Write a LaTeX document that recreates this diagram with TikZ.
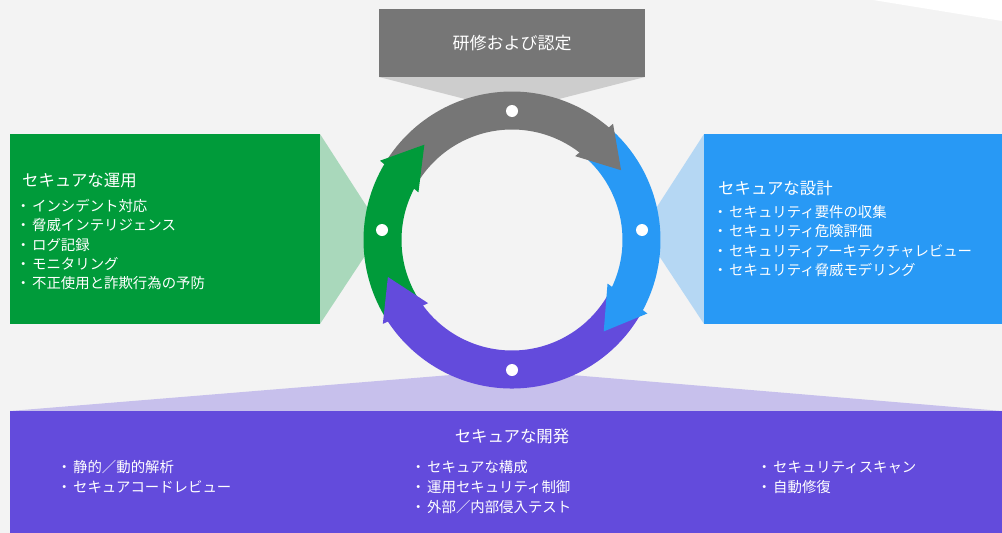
\documentclass[tikz,border=0pt]{standalone}
\usepackage{fontspec}
\newfontfamily\jp{Noto Sans CJK JP}
\definecolor{bgc}{HTML}{F3F3F3}
\definecolor{cgray}{HTML}{767676}
\definecolor{cgreen}{HTML}{009B3A}
\definecolor{cblue}{HTML}{2899F5}
\definecolor{cpurple}{HTML}{634BDC}
\newcommand\bul{\makebox[11pt][l]{\kern-5pt ・}}
\newcommand\ringbody[3]{\fill[#1] (#2:148.5) arc[start angle=#2, end angle=#3, radius=148.5] -- (#3:110.5) arc[start angle=#3, end angle=#2, radius=110.5] -- cycle;}
\newcommand\ringhead[2]{\fill[#1] ({#2-2}:154) -- ({#2-18.4}:129.5) -- ({#2+2}:105) -- cycle;}
\begin{document}
\begin{tikzpicture}[x=1pt,y=-1pt,
  box/.style={rectangle, inner sep=0pt, outer sep=0pt},
  ttl/.style={text=white, font=\jp\fontsize{16.4}{19}\selectfont, inner sep=0pt, text height=14.4pt, text depth=2pt, anchor=west},
  itm/.style={text=white, font=\jp\fontsize{14.4}{19}\selectfont, inner sep=0pt, text height=12.7pt, text depth=1.7pt, anchor=west},
  dot/.style={circle, fill=white, inner sep=0pt, minimum size=12pt},
  fan/.style={fill=#1, fill opacity=0.3}]
\useasboundingbox (0,0) rectangle (1002,533);
\fill[bgc] (0,0) rectangle (1002,533);
\fill[white] (873,0) -- (1002,0) -- (1002,21) -- cycle;
% boxes
\node[box, fill=cgray, minimum width=266pt, minimum height=68pt, text=white, font=\jp\fontsize{17}{20}\selectfont, text height=15pt, text depth=2pt] (top) at (512,43) {研修および認定};
\node[box, fill=cgreen, minimum width=310pt, minimum height=190pt] (gbox) at (165,229) {};
\node[box, fill=cblue, minimum width=298pt, minimum height=190pt] (bbox) at (853,229) {};
\node[box, fill=cpurple, minimum width=992pt, minimum height=122pt] (pbox) at (506,472) {};
% dot positions
\coordinate (dT) at (512,111);
\coordinate (dR) at (642,230);
\coordinate (dL) at (382,230);
\coordinate (dB) at (512,370);
% fans under ring
\fill[fan=cgreen] (gbox.north east) -- (dL) -- (gbox.south east) -- cycle;
\fill[fan=cgray] (top.south west) -- (dT) -- (top.south east) -- cycle;
% ring
\begin{scope}[shift={(512,240)}, y=1pt]
  \ringbody{cgray}{149}{49}
  \ringbody{cblue}{49}{-28.5}
  \ringbody{cpurple}{-28.5}{-147}
  \ringbody{cgreen}{-147}{-211}
  \ringhead{cgray}{51}
  \ringhead{cblue}{-26.5}
  \ringhead{cpurple}{215}
  \ringhead{cgreen}{151}
\end{scope}
% fans over ring
\fill[fan=cblue] (bbox.north west) -- (dR) -- (bbox.south west) -- cycle;
\fill[fan=cpurple] (pbox.north west) -- (dB) -- (pbox.north east) -- cycle;
% dots
\node[dot] (pT) at (dT) {};
\node[dot] (pR) at (dR) {};
\node[dot] (pL) at (dL) {};
\node[dot] (pB) at (dB) {};
% green text
\node[ttl] (gt) at (22,180) {セキュアな運用};
\foreach \t [count=\i] in {インシデント対応,脅威インテリジェンス,ログ記録,モニタリング,不正使用と詐欺行為の予防}
  \node[itm] (g\i) at (21,{206+19.3*(\i-1)}) {\bul\t};
% blue text
\node[ttl] (bt) at (718,188) {セキュアな設計};
\foreach \t [count=\i] in {セキュリティ要件の収集,セキュリティ危険評価,セキュリティアーキテクチャレビュー,セキュリティ脅威モデリング}
  \node[itm] (b\i) at (718,{212+19.3*(\i-1)}) {\bul\t};
% purple text
\node[ttl, anchor=center] (pt) at (512,436) {セキュアな開発};
\foreach \t [count=\i] in {静的／動的解析,セキュアコードレビュー}
  \node[itm] (pa\i) at (62,{467+20*(\i-1)}) {\bul\t};
\foreach \t [count=\i] in {セキュアな構成,運用セキュリティ制御,外部／内部侵入テスト}
  \node[itm] (pb\i) at (416,{467+20*(\i-1)}) {\bul\t};
\foreach \t [count=\i] in {セキュリティスキャン,自動修復}
  \node[itm] (pc\i) at (762,{467+20*(\i-1)}) {\bul\t};
\end{tikzpicture}
\end{document}
